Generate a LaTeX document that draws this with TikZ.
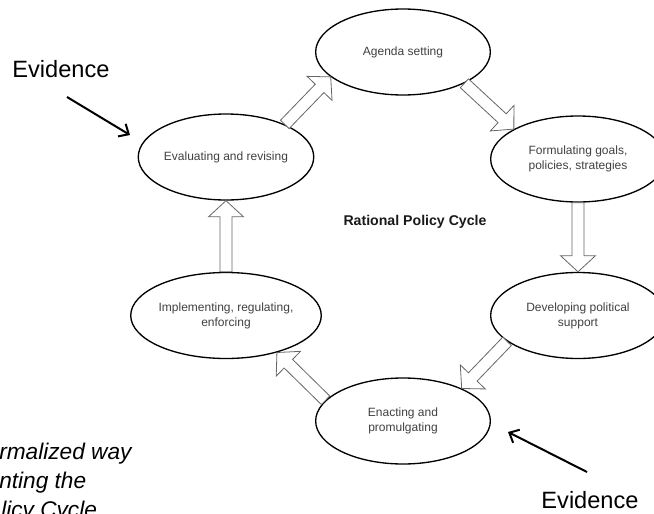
\documentclass[tikz,border=0pt]{standalone}
\usepackage{fontspec}
\setmainfont{Liberation Sans}
\usetikzlibrary{shapes.geometric,calc,arrows.meta}

\tikzset{
  stage/.style={ellipse,draw,line width=1pt,minimum width=131pt,minimum height=64.5pt,inner sep=0pt,align=center,text=black!75,font=\fontsize{9}{11.25}\selectfont},
  blockarrow/.style={draw=black!60,line width=0.6pt,fill=white,line join=miter},
  evidence/.style={font=\fontsize{17.7}{21}\selectfont},
  pointer/.style={line width=1.5pt,-{Straight Barb[length=6pt,width=11pt]}},
  caption/.style={font=\fontsize{17}{21}\selectfont\itshape,inner sep=0pt}
}

% hollow block arrow from #1 to #2
\newcommand{\cyclearrow}[2]{%
  \coordinate (s) at (#1);
  \coordinate (e) at (#2);
  \coordinate (h) at ($(e)!12pt!(s)$);
  \draw[blockarrow] ($(s)!4.5pt!90:(e)$) -- ($(h)!4.5pt!90:(e)$) -- ($(h)!13pt!90:(e)$) -- (e)
    -- ($(h)!13pt!-90:(e)$) -- ($(h)!4.5pt!-90:(e)$) -- ($(s)!4.5pt!-90:(e)$) -- cycle;
}

\begin{document}
\begin{tikzpicture}[x=0.75pt,y=0.75pt,yscale=-1,xscale=1]
%set diagram left start at 0, and has height of 514
\useasboundingbox (0,0) rectangle (654,514);

%Shape: Ellipse
\node[stage] (agenda) at (403,52) {Agenda setting};
%Shape: Ellipse
\node[stage] (formulate) at (578,159) {Formulating goals,\\policies, strategies};
%Shape: Ellipse
\node[stage] (develop) at (578,315.5) {Developing political\\support};
%Shape: Ellipse
\node[stage] (enact) at (403,421) {Enacting and\\promulgating};
%Shape: Ellipse
\node[stage] (implement) at (226,315.5) {Implementing, regulating,\\enforcing};
%Shape: Ellipse
\node[stage] (evaluate) at (226,157) {Evaluating and revising};

%Block Arrows
\cyclearrow{evaluate.29}{agenda.199}
\cyclearrow{agenda.333}{formulate.155}
\cyclearrow{formulate.south}{develop.north}
\cyclearrow{develop.200}{enact.29}
\cyclearrow{enact.165}{implement.324}
\cyclearrow{implement.north}{evaluate.south}

% Text Node
\node[font=\fontsize{10.6}{13}\selectfont\bfseries,text=black!90] (title) at (415,222) {Rational Policy Cycle};

% Text Node
\node[evidence] (evidenceA) at (61,69) {Evidence};
\coordinate (evA1) at (67,97);
\coordinate (evA2) at (130,135);
\draw[pointer] (evA1) -- (evA2);

% Text Node
\node[evidence] (evidenceB) at (590,500) {Evidence};
\coordinate (evB1) at (587,472);
\coordinate (evB2) at (508,432);
\draw[pointer] (evB1) -- (evB2);

% Text Node
\node[caption,anchor=base west] (capA) at (-1,459) {rmalized way};
\node[caption,anchor=base west] (capB) at (-1,488) {nting the};
\node[caption,anchor=base west] (capC) at (1,517) {licy Cycle};

\end{tikzpicture}
\end{document}
